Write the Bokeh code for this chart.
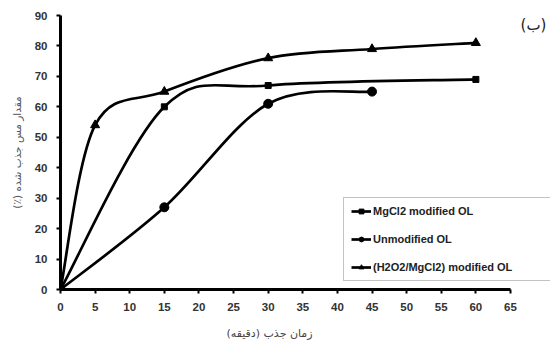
import math
import numpy as np
from bokeh.plotting import figure
from bokeh.models import (Range1d, FixedTicker, Legend, LegendItem, Label,
                          Title, ColumnDataSource)
from bokeh.embed import file_html
from bokeh.resources import INLINE

# ---- data ----
x_mgcl2 = [0, 15, 30, 60]
y_mgcl2 = [0, 60, 67, 69]

x_unmod = [0, 15, 30, 45]
y_unmod = [0, 27, 61, 65]

x_h2o2 = [0, 5, 15, 30, 45, 60]
y_h2o2 = [0, 54, 65, 76, 79, 81]

labels = ["MgCl2 modified OL", "Unmodified OL", "(H2O2/MgCl2) modified OL"]
x_ticks = list(range(0, 70, 5))
y_ticks = list(range(0, 100, 10))
RLM = "\u200f"
x_title = "زمان جذب (دقیقه)" + RLM
y_title = "مقدار مس جذب شده (٪)" + RLM
panel_tag = "(ب)"


def smooth_segments(xs, ys):
    """Catmull-Rom style bezier control points (Excel-like smoothed line)."""
    xs = np.asarray(xs, float)
    ys = np.asarray(ys, float)
    n = len(xs)
    px = np.concatenate([[xs[0]], xs, [xs[-1]]])
    py = np.concatenate([[ys[0]], ys, [ys[-1]]])
    d = dict(x0=[], y0=[], x1=[], y1=[], cx0=[], cy0=[], cx1=[], cy1=[])
    for i in range(n - 1):
        p0x, p0y = px[i], py[i]
        p1x, p1y = px[i + 1], py[i + 1]
        p2x, p2y = px[i + 2], py[i + 2]
        p3x, p3y = px[i + 3], py[i + 3]
        d["x0"].append(p1x); d["y0"].append(p1y)
        d["x1"].append(p2x); d["y1"].append(p2y)
        d["cx0"].append(p1x + (p2x - p0x) / 6.0)
        d["cy0"].append(p1y + (p2y - p0y) / 6.0)
        d["cx1"].append(p2x - (p3x - p1x) / 6.0)
        d["cy1"].append(p2y - (p3y - p1y) / 6.0)
    return ColumnDataSource(d)


p = figure(width=550, height=351, output_backend="svg", toolbar_location=None,
           x_range=Range1d(0, 70.78), y_range=Range1d(0, 90),
           min_border_left=60, min_border_right=0,
           min_border_top=15, min_border_bottom=62,
           background_fill_color="white", border_fill_color="white")
p.outline_line_color = None
p.grid.visible = False

for ax, ticks in ((p.xaxis, x_ticks), (p.yaxis, y_ticks)):
    ax.ticker = FixedTicker(ticks=ticks)
    ax.axis_line_width = 3
    ax.axis_line_color = "black"
    ax.major_tick_line_width = 2
    ax.major_tick_line_color = "black"
    ax.major_tick_in = 0
    ax.major_tick_out = 4
    ax.minor_tick_line_color = None
    ax.major_label_text_font = "Liberation Sans"
    ax.major_label_text_font_style = "bold"
    ax.major_label_text_font_size = "11.5px"
    ax.major_label_text_color = "#333333"
p.xaxis.bounds = (x_ticks[0], x_ticks[-1])
p.xaxis.major_label_standoff = 9
p.yaxis.major_label_standoff = 9

series = [
    (x_mgcl2, y_mgcl2, "square", 6),
    (x_unmod, y_unmod, "circle", 9),
    (x_h2o2, y_h2o2, "triangle", 9),
]
items = []
for (xs, ys, marker, size), lab in zip(series, labels):
    src = smooth_segments(xs, ys)
    br = p.bezier(x0="x0", y0="y0", x1="x1", y1="y1", cx0="cx0", cy0="cy0",
                  cx1="cx1", cy1="cy1", source=src, line_color="black",
                  line_width=2.7)
    sr = p.scatter(xs, ys, marker=marker, size=size, fill_color="black",
                   line_color="black")
    items.append(LegendItem(label=lab, renderers=[br, sr]))

legend = Legend(items=items, location=(283, 8),
                label_text_font="Liberation Sans", label_text_font_style="bold",
                label_text_font_size="11px", label_text_color="#222222",
                glyph_width=20, glyph_height=12, label_height=12,
                label_standoff=2, spacing=16, padding=7, margin=0,
                label_width=170,
                border_line_color="#888888", border_line_width=1,
                background_fill_color="white", background_fill_alpha=1)
p.add_layout(legend)

p.add_layout(Title(text=y_title, align="center", standoff=17,
                   text_font="DejaVu Sans", text_font_size="10.5px",
                   text_font_style="normal", text_color="#555555"), "left")
p.add_layout(Title(text=x_title, align="left", offset=166, standoff=22,
                   text_font="DejaVu Sans", text_font_size="11px",
                   text_font_style="normal", text_color="#444444"), "below")
p.add_layout(Label(x=473, y=265, x_units="screen", y_units="screen",
                   text=panel_tag, text_align="center", text_baseline="middle",
                   text_font="DejaVu Sans", text_font_size="15px",
                   text_color="#222222"))

open("out.html", "w").write(file_html(p, INLINE))
